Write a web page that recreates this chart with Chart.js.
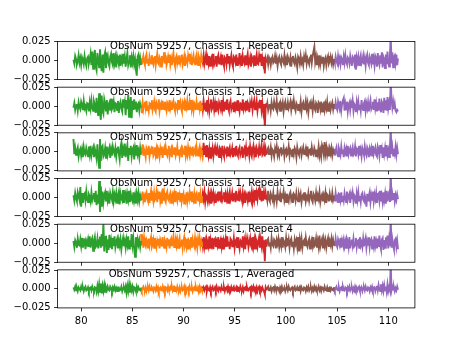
<!DOCTYPE html>
<html>
<head>
<meta charset="utf-8">
<script src="https://cdn.jsdelivr.net/npm/chart.js@4"></script>
<style>
  body { margin: 0; background: #fff; }
  #wrap { position: relative; width: 461px; height: 346px; }
  #wrap canvas { position: absolute; left: 0; top: 0; }
</style>
</head>
<body>
<div id="wrap"></div>
<script>
// values, in units of 1e-3; one sub-list per colour segment
const valueUnit = 0.001;
const xTicks = [80, 85, 90, 95, 100, 105, 110];
const yTicks = [-0.025, 0, 0.025];
const segmentEdges = [79.25, 85.85, 91.8, 98.1, 104.7, 110.95];
const titles = [
  'ObsNum 59257, Chassis 1, Repeat 0',
  'ObsNum 59257, Chassis 1, Repeat 1',
  'ObsNum 59257, Chassis 1, Repeat 2',
  'ObsNum 59257, Chassis 1, Repeat 3',
  'ObsNum 59257, Chassis 1, Repeat 4',
  'ObsNum 59257, Chassis 1, Averaged'
];

const repeat0 = [
  [1,-4,6,2,-5,-1,7,-3,3,-6, 4,0,-5,6,-2,-7,3,5,-4,1, 9,-6,12,-11,4,14,-8,-13,10,2, -9,15,-5,-14,8,-16,6,11,-10,3,
   7,-4,-8,5,9,-2,-6,10,-3,4, -9,6,1,-5,8,-7,3,-2,9,-4, 5,-8,2,10,-6,-1,7,-9,4,-3, 6,-5,2,-12,-20,5,8,-4,3,-6],
  [3,-5,1,6,-2,-6,4,8,-3,2, -7,5,0,-4,7,-1,-5,3,6,-6, 2,9,-3,-5,4,1,-8,6,-2,3, 11,-4,7,-6,-1,5,-3,8,-5,2,
   -6,4,10,-2,-7,3,6,-4,1,-5, 7,-3,2,8,-6,-2,5,-7,4,0, -4,6,-1,9,-5,3,-6,2,7,-3, -5,4,8,-2,-6,5,1,-4,6,-3],
  [4,-2,7,-5,1,8,-6,3,-4,6, -7,2,5,-3,9,-5,-1,6,-8,3, 7,-4,0,5,-6,8,-2,-7,4,2, -5,9,-3,6,-6,1,7,-4,-8,5,
   3,-2,8,-6,4,-5,10,-3,2,-7, 6,-1,-4,7,-5,3,9,-6,-2,4, -8,5,2,-3,7,-6,1,8,-4,-5, 6,-2,9,-7,3,-4,5,-17,2,-3],
  [-2,3,-5,4,1,-6,2,5,-3,-1, 6,-4,3,-7,2,5,-2,-5,4,0, -3,7,-4,2,-6,5,1,-3,4,-8, 3,6,-2,-5,4,-1,-9,5,2,-4,
   6,-3,1,-6,5,-2,7,-4,3,-1, -5,4,8,-3,6,12,18,-2,5,-6, 3,-4,7,-5,2,-3,5,-7,1,4, -6,2,6,-4,-1,5,-3,3,-5,2],
  [2,-3,5,-1,-4,6,-2,3,-5,4, 1,-6,5,-3,7,-2,-5,4,2,-4, 6,-1,-7,5,3,-3,8,-12,4,-2, 5,-6,2,7,-4,-1,6,-5,3,-7,
   4,8,-3,-6,5,1,-4,9,-5,2, -7,6,3,-8,10,-2,-6,7,-4,11, -9,5,2,-10,8,-5,12,-3,-8,6, 32,-4,11,-9,5,7,-3,8,-6,3]
];
const repeat1 = [
  [-2,4,-5,1,3,-6,5,-1,-4,6, 2,-5,7,-3,0,-6,4,3,-7,5, -3,8,-2,-6,6,1,-9,11,-4,-13, 17,-8,-18,14,-6,-10,9,3,-7,8,
   -11,2,5,-6,10,-4,-1,6,-8,4, 3,-5,7,-9,2,6,-3,-7,9,-2, 5,-12,8,-4,15,-14,3,12,-16,7, -5,9,-3,6,-8,2,4,-6,3,-2],
  [-8,-3,5,-4,2,6,-2,7,-5,1, -6,4,3,-3,8,-5,0,6,-4,-7, 5,2,-3,9,-6,1,4,-5,7,-2, -4,6,-1,-6,5,3,-7,8,-3,2,
   -5,4,7,-2,-6,3,1,-4,8,-5, 2,6,-3,-7,4,0,5,-6,3,-2, 7,-4,-1,6,-5,8,-3,2,-6,4, 1,-5,6,-2,-4,5,-3,7,-5,2],
  [4,-5,7,-2,1,-6,8,-3,5,-7, 2,9,-4,-1,6,-5,3,-8,7,-2, -6,5,1,-4,8,-3,6,-7,2,4, -5,9,-2,-6,3,7,-4,0,5,-8,
   6,-3,2,-5,8,-1,-7,4,3,-6, 9,-4,1,-3,7,-6,5,2,-8,4, -2,6,-5,3,8,-4,-1,7,-6,2, 5,-3,8,-5,4,-7,3,-28,-2,4],
  [-2,4,-5,1,3,-6,5,-2,-4,6, 0,-3,7,-5,2,4,-6,3,-1,5, -7,2,6,-4,-2,5,-3,1,6,-5, 3,-4,7,-2,-6,4,1,-5,3,-3,
   6,-7,2,5,-4,-1,7,-3,4,-8, 2,5,-4,3,-6,6,-2,-5,4,1, -9,5,3,-4,6,-7,2,4,-5,3, -3,6,-6,2,4,-5,1,5,-4,3],
  [3,-4,5,-2,-5,6,1,-3,7,-5, 4,8,11,-6,3,-4,6,-7,2,5, -5,4,-2,7,-6,3,1,-8,5,-3, 6,-4,2,-6,8,-2,-5,4,7,-6,
   3,-3,5,-7,2,8,-4,-1,6,-5, 9,-3,4,-7,5,-6,10,-2,-8,6, 3,-9,11,-4,8,-6,12,-3,4,-5, 34,9,-2,6,-4,3,-6,-8,-5,-7]
];
const repeat2 = [
  [17,-3,5,-4,2,6,-6,1,4,-5, 3,-7,6,-2,-4,5,0,-6,7,-3, 8,-5,2,6,-7,4,-2,-9,10,-4, -21,17,-12,6,8,-6,-3,5,-9,7,
   -4,2,6,-8,3,-5,7,1,-3,5, -6,4,7,-2,-10,6,12,-8,3,-5, 11,-7,2,9,-12,5,-4,8,-6,3, 6,-10,4,-5,9,-3,2,-7,5,-4],
  [6,-2,10,-5,3,-1,-7,5,2,-4, 8,-6,1,4,-3,7,-5,-2,6,-4, 3,-9,5,2,-6,4,-3,7,-8,1, 5,-4,6,-2,-5,3,8,-6,0,4,
   -7,5,2,-3,6,-5,-1,7,-4,3, -6,2,5,-7,4,1,-3,8,-5,2, -4,6,-2,-6,5,3,-5,7,-3,0, 4,-6,6,-2,-5,3,7,-4,2,-3],
  [5,-2,12,-4,8,-6,9,3,-5,4, -8,6,-2,5,-6,2,7,-3,-4,6, 1,-7,5,3,-5,8,-2,-6,4,1, -3,7,-5,2,6,-4,-1,5,-7,3,
   4,-6,8,-2,-5,3,6,-4,0,7, -8,2,5,-3,6,-6,1,4,-5,7, -2,-6,3,8,-4,2,-7,5,1,-3, 6,-5,3,9,-4,-2,7,-6,4,-3],
  [-4,2,5,-3,-1,6,-5,3,1,-6, 4,-2,7,-4,2,-5,3,6,-3,-1, 5,-6,2,4,-4,-2,7,-5,3,1, -6,4,-3,5,2,-7,6,-1,-4,3,
   5,-5,1,6,-3,-2,4,-6,7,-4, 2,3,-5,6,-2,-4,5,1,-6,3, -3,7,-5,2,-6,9,5,-3,13,-2, 6,-4,3,-6,4,-2,5,-5,2,-3],
  [4,-5,2,6,-3,-6,5,1,-4,7, -2,3,-7,5,-1,4,-6,8,-3,2, 5,-5,1,6,-4,-2,7,-6,3,4, -3,8,-5,2,-6,5,1,-4,7,-2,
   -5,6,3,-7,4,-1,5,-5,8,-3, 2,6,-4,-6,7,3,-5,9,-2,4, -8,6,-3,5,-6,9,-4,2,-7,5, 32,-3,6,-5,4,-2,7,-4,5,-3]
];
const repeat3 = [
  [3,-4,6,-1,-5,7,2,-3,14,-12, 6,-7,3,5,-4,8,-2,-6,4,1, -5,7,-3,2,6,-6,9,-10,4,-8, 22,-19,15,-12,8,-6,3,7,-5,9,
   -4,2,-8,6,1,-3,7,-5,4,-2, 6,-7,3,8,-9,5,-1,-4,10,-7, 2,6,-8,4,-3,9,-6,5,-2,-5, 7,-4,3,-8,5,-3,6,-5,2,-4],
  [5,-3,8,-4,1,-6,4,7,-2,-5, 6,-7,3,9,-4,2,-5,6,-3,-1, 7,-6,4,-2,8,-5,1,-8,12,-4, 6,-3,-6,5,8,-2,-4,3,6,-7,
   2,5,-3,4,-6,9,-1,-5,7,-3, 3,-6,6,-4,1,5,-8,4,-2,7, -5,3,-1,6,-4,8,-6,2,-3,5, -7,4,6,-2,-4,7,-3,5,-6,2],
  [-4,5,-2,7,-6,3,1,-5,6,-3, 4,-8,5,-1,6,-4,2,-7,3,5, -5,8,-2,-4,6,-3,1,7,-6,4, -2,5,-7,3,8,-4,-1,6,-5,2,
   4,-6,9,-3,-2,5,-5,7,1,-4, 6,-3,3,-7,5,2,-4,8,-6,3, -2,7,-5,4,-3,10,-4,6,-2,9, 12,-3,5,-5,9,-4,7,-2,6,-3],
  [3,-4,9,-2,-5,5,1,-3,6,-6, 2,4,-5,7,-2,-3,5,-6,3,1, 8,-4,2,-6,5,-1,-5,4,7,-3, 1,-7,5,3,-4,6,-2,-5,4,-1,
   5,-6,2,4,-3,7,-5,1,-2,6, -4,3,9,-3,-6,5,2,-4,6,-5, 3,-2,7,-6,1,4,-5,3,-3,6, -7,4,2,-5,5,-2,-4,6,-3,2],
  [3,-5,6,-2,1,-6,5,4,-3,7, -5,2,-4,6,-1,-6,8,-3,2,5, -7,4,-2,6,-5,3,1,-8,5,-3, 7,-4,2,-6,4,6,-3,-5,3,-2,
   -12,5,-4,2,7,-6,3,-3,8,-5, 4,-2,6,-7,3,5,-4,9,-5,2, -6,7,-3,5,-8,9,-5,4,7,-6, 33,-4,5,-2,6,-5,3,-3,4,-2]
];
const repeat4 = [
  [3,-5,4,1,-6,6,-2,-3,5,-4, 7,-6,2,4,-8,3,-1,5,-5,9, -6,4,7,-10,2,8,-5,-3,6,-7, 4,9,-6,12,-4,27,-11,8,10,-13,
   5,-9,11,-6,3,-8,7,-4,9,-5, 2,6,-7,4,-3,5,-8,1,7,-4, 3,-6,5,-2,9,-7,4,-5,12,-3, 6,-8,-18,8,-4,5,-2,4,-5,3],
  [12,-3,4,-6,7,-1,-4,5,2,-7, 6,-3,3,8,-5,-2,4,-6,7,1, -5,3,-2,6,-7,5,2,-4,8,-3, -6,4,1,-5,7,-2,5,-7,3,6,
   -4,2,9,-5,-1,6,-3,4,-6,2, 7,-4,-2,5,-6,3,8,-3,1,-5, 6,-7,4,2,-3,8,-6,5,-1,-4, 7,-2,3,-6,5,-3,6,-4,2,-5],
  [6,-3,8,-5,2,-7,5,1,-4,9, -6,3,-2,7,-8,4,6,-5,2,-3, 8,-6,1,5,-4,7,-7,3,-1,6, -5,9,-3,2,-8,6,4,-4,-2,7,
   -6,3,5,-5,8,-1,-7,4,2,-6, 9,-4,3,-8,6,-2,5,-5,1,7, -3,-6,8,-4,4,-7,6,2,-5,3, 8,-6,5,-3,9,-4,4,-24,5,-3],
  [-5,4,6,-3,1,-6,7,-2,-4,5, 3,-7,4,-1,6,-5,2,-3,8,-6, 4,1,-5,7,-3,-2,5,-6,3,6, -4,2,-7,5,-1,4,-5,8,-11,5,
   -3,6,-6,2,4,-4,7,-2,-5,3, 6,-7,1,5,-3,8,-4,-2,6,-6, 3,-5,10,-4,2,6,-7,5,-3,4, -6,2,7,-5,3,-2,6,-4,4,-3],
  [3,-4,6,-2,-5,5,1,-3,7,-6, 4,-1,5,-4,2,-6,6,3,-5,8, -7,2,5,-3,6,-4,-2,7,-5,3, 4,-6,8,-3,1,-5,6,-4,2,7,
   -6,3,-2,8,-5,4,6,-7,5,-3, 9,-4,2,-7,6,-5,10,-3,-8,5, 7,-9,4,-6,8,-3,10,-7,5,-4, 33,-6,5,-3,-8,4,6,-5,3,-8]
];
const averaged = [
  [2,-1,3,-2,1,-3,2,0,-2,3, -1,2,-3,1,3,-2,-1,2,-3,1, 2,-2,3,-1,-3,2,1,-4,4,-3, 6,-5,7,-6,4,-3,5,-4,2,-2,
   3,-1,-2,3,1,-3,2,-1,3,-2, 1,-3,2,2,-2,-1,3,-3,1,2, -2,3,-5,4,-3,6,-5,4,-2,3, -4,2,1,-3,3,-2,2,-1,-2,1],
  [2,-2,1,3,-1,-2,2,-3,1,2, -2,3,-1,-2,2,0,-3,2,1,-2, 3,-1,2,-3,1,2,-2,-1,3,-2, 1,-3,2,1,-2,3,-1,-2,2,-1,
   3,-2,1,-3,2,1,-2,3,-1,-2, 2,-3,1,2,-2,-1,3,-2,2,-3, 1,2,-2,3,-1,-2,2,-3,1,2, -2,3,-1,-2,2,-1,3,-2,1,-2],
  [3,-1,2,-2,1,3,-3,2,-1,-2, 2,-3,1,3,-2,-1,2,-2,3,-1, -3,2,1,-2,3,-1,-2,2,-3,1, 2,-2,3,-1,1,-3,2,-2,1,3,
   -2,-1,2,-3,2,1,-2,3,-1,-2, 2,-3,1,2,-2,3,-1,-2,1,2, -3,2,-1,3,-2,1,-2,2,-3,1, 3,-2,1,-2,2,-1,-3,-7,2,-1],
  [-2,1,3,-2,-1,2,-3,1,2,-2, 3,-1,-2,2,1,-3,2,-1,3,-2, -1,2,-3,1,2,-2,3,-1,-2,1, 2,-3,1,3,-2,-1,2,-2,1,3,
   -3,2,-1,-2,2,1,-3,2,-1,3, -2,1,2,-3,1,-2,3,-1,2,-2, -1,3,-2,1,-3,2,1,-2,3,-1, -2,2,-3,1,2,-2,1,-1,-2,2],
  [2,-2,1,3,-1,-2,2,-3,1,2, -2,3,-1,-2,2,1,-3,2,-1,3, -2,1,2,-3,1,-2,3,-1,2,-2, 1,3,-2,-1,2,-3,1,2,-2,3,
   -1,-2,2,1,-3,2,-1,3,-2,1, 2,-3,1,4,-2,5,-1,-3,6,-2, 4,-3,5,-2,3,-4,6,-3,2,-2, 34,-2,3,-1,2,-3,1,-2,3,-1]
];
const runs = [repeat0, repeat1, repeat2, repeat3, repeat4, averaged];

const lineColors = ['#2ca02c', '#ff7f0e', '#d62728', '#8c564b', '#9467bd'];

Chart.defaults.font.family = 'DejaVu Sans';
Chart.defaults.font.size = 10;
Chart.defaults.color = '#000';

const W = 461, H = 346;
const plotLeft = 57.6, plotRight = 414.9;
const firstTop = 41.5, rowStep = 45.67, rowHeight = 38.06;

// frame + title drawn on top of the lines
const framePlugin = {
  id: 'frame',
  afterDatasetsDraw(chart, args, opts) {
    const a = chart.chartArea, ctx = chart.ctx;
    ctx.save();
    ctx.strokeStyle = '#000';
    ctx.lineWidth = 0.8;
    ctx.strokeRect(a.left, a.top, a.right - a.left, a.bottom - a.top);
    ctx.fillStyle = '#000';
    ctx.font = '10px "DejaVu Sans"';
    ctx.textAlign = 'center';
    ctx.textBaseline = 'alphabetic';
    ctx.fillText(opts.text, 201.5, a.top + 7.4);
    ctx.restore();
  }
};

const wrap = document.getElementById('wrap');
runs.forEach((run, i) => {
  const top = firstTop + i * rowStep;
  const bottom = top + rowHeight;
  const last = i === runs.length - 1;
  const canvas = document.createElement('canvas');
  canvas.width = W;
  canvas.height = H;
  wrap.appendChild(canvas);

  const datasets = run.map((vals, k) => {
    const x0 = segmentEdges[k], x1 = segmentEdges[k + 1];
    return {
      data: vals.map((v, j) => ({ x: x0 + (x1 - x0) * j / (vals.length - 1), y: v * valueUnit })),
      borderColor: lineColors[k],
      borderWidth: 1.9,
      pointRadius: 0,
      tension: 0
    };
  });

  new Chart(canvas, {
    type: 'line',
    data: { datasets: datasets },
    plugins: [framePlugin],
    options: {
      responsive: false,
      devicePixelRatio: 1,
      animation: false,
      layout: { padding: { left: 0, right: W - plotRight, top: top, bottom: 0 } },
      plugins: {
        legend: { display: false },
        tooltip: { enabled: false },
        frame: { text: titles[i] }
      },
      scales: {
        x: {
          type: 'linear',
          min: 77.7,
          max: 112.6,
          afterBuildTicks: s => { s.ticks = xTicks.map(v => ({ value: v })); },
          afterFit: s => { s.height = H - bottom; },
          border: { display: false },
          grid: { drawOnChartArea: false, tickLength: 3.5, tickWidth: 0.8, tickColor: '#000' },
          ticks: { display: last, padding: 3.5, maxRotation: 0, callback: v => String(v) }
        },
        y: {
          min: -0.0252,
          max: 0.0252,
          afterBuildTicks: s => { s.ticks = yTicks.map(v => ({ value: v })); },
          afterFit: s => { s.width = plotLeft; },
          border: { display: false },
          grid: { drawOnChartArea: false, tickLength: 3.5, tickWidth: 0.8, tickColor: '#000' },
          ticks: {
            padding: 3.5,
            callback: v => (v < 0 ? '\u2212' : '') + Math.abs(v).toFixed(3)
          }
        }
      }
    }
  });
});
</script>
</body>
</html>
